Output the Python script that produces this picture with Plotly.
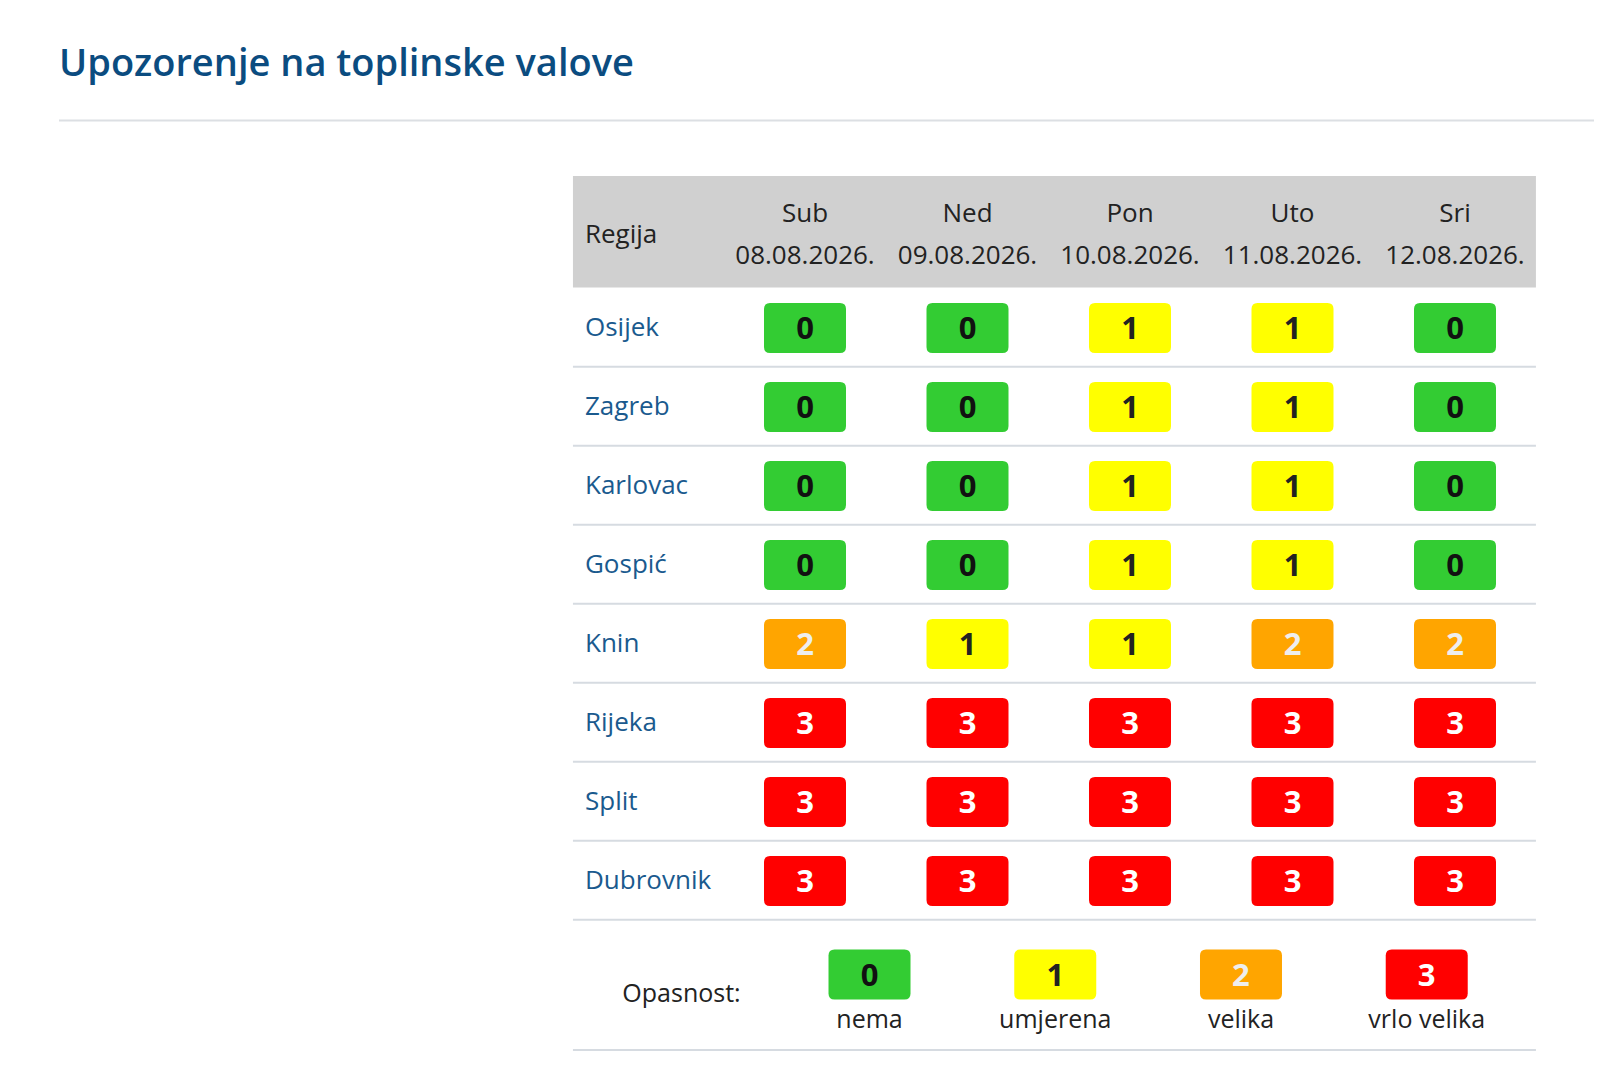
import plotly.graph_objects as go

# data
regions = ['Osijek', 'Zagreb', 'Karlovac', 'Gospić', 'Knin', 'Rijeka', 'Split', 'Dubrovnik']
days = ['Sub', 'Ned', 'Pon', 'Uto', 'Sri']
dates = ['08.08.2026.', '09.08.2026.', '10.08.2026.', '11.08.2026.', '12.08.2026.']
levels = [
    [0, 0, 1, 1, 0],
    [0, 0, 1, 1, 0],
    [0, 0, 1, 1, 0],
    [0, 0, 1, 1, 0],
    [2, 1, 1, 2, 2],
    [3, 3, 3, 3, 3],
    [3, 3, 3, 3, 3],
    [3, 3, 3, 3, 3],
]
level_values = [0, 1, 2, 3]
level_names = ['nema', 'umjerena', 'velika', 'vrlo velika']

# styles
fill = {0: '#33cc33', 1: '#ffff00', 2: '#ffa500', 3: '#ff0000'}
ink = {0: '#111111', 1: '#222222', 2: '#eeeeee', 3: '#ffffff'}
FONT = 'Open Sans'
W, H = 1602, 1080
XU, X0 = 162.5, 797      # px per column, px of first column
YU, Y0 = 79, 320         # px per row, px of first row
DIGIT_DY = 0.045         # nudge digits down to the badge centre

tbl_left, tbl_right = -1.428, 4.498
label_x = -1.354
leg_y, leg_label_y = 8.185, 8.78
leg_x0, leg_step = 0.397, 1.143


def badge_path(w=82, h=50, r=6):
    a, b = w / 2, h / 2
    return (f'M {-a + r},{-b} L {a - r},{-b} Q {a},{-b} {a},{-b + r} '
            f'L {a},{b - r} Q {a},{b} {a - r},{b} L {-a + r},{b} '
            f'Q {-a},{b} {-a},{b - r} L {-a},{-b + r} Q {-a},{-b} {-a + r},{-b} Z')


fig = go.Figure()
shapes = []

# header background
shapes.append(dict(type='rect', xref='x', yref='y', x0=tbl_left, x1=tbl_right,
                   y0=-1.924, y1=-0.513, fillcolor='#d0d0d0', line_width=0, layer='below'))

# row separators
for i in range(len(regions)):
    shapes.append(dict(type='line', xref='x', yref='y', x0=tbl_left, x1=tbl_right,
                       y0=i + 0.49, y1=i + 0.49, line=dict(color='#d6dbe1', width=2)))
shapes.append(dict(type='line', xref='x', yref='y', x0=tbl_left, x1=tbl_right,
                   y0=9.14, y1=9.14, line=dict(color='#d6dbe1', width=2)))

# badges
bx, by, btxt, bcol = [], [], [], []
for i, row in enumerate(levels):
    for j, v in enumerate(row):
        shapes.append(dict(type='path', xref='x', yref='y', xsizemode='pixel', ysizemode='pixel',
                           xanchor=j, yanchor=i, path=badge_path(),
                           fillcolor=fill[v], line_width=0, layer='below'))
        bx.append(j)
        by.append(i + DIGIT_DY)
        btxt.append(str(v))
        bcol.append(ink[v])

# legend badges
lx = [leg_x0 + k * leg_step for k in range(len(level_values))]
for k, v in enumerate(level_values):
    shapes.append(dict(type='path', xref='x', yref='y', xsizemode='pixel', ysizemode='pixel',
                       xanchor=lx[k], yanchor=leg_y, path=badge_path(),
                       fillcolor=fill[v], line_width=0, layer='below'))

fig.add_trace(go.Scatter(x=bx, y=by, text=btxt, mode='text', hoverinfo='skip',
                         textfont=dict(family=FONT, size=31, color=bcol, weight='bold')))
fig.add_trace(go.Scatter(x=lx, y=[leg_y + DIGIT_DY] * 4, text=[str(v) for v in level_values],
                         mode='text', hoverinfo='skip',
                         textfont=dict(family=FONT, size=31, color=[ink[v] for v in level_values],
                                       weight='bold')))
fig.add_trace(go.Scatter(x=lx, y=[leg_label_y] * 4, text=level_names, mode='text', hoverinfo='skip',
                         textfont=dict(family=FONT, size=25, color='#222222')))
fig.add_trace(go.Scatter(x=[-0.76], y=[8.458], text=['Opasnost:'], mode='text', hoverinfo='skip',
                         textfont=dict(family=FONT, size=25, color='#222222')))

# header texts
fig.add_trace(go.Scatter(x=list(range(len(days))), y=[-1.424] * len(days), text=days, mode='text',
                         hoverinfo='skip', textfont=dict(family=FONT, size=26, color='#222222')))
fig.add_trace(go.Scatter(x=list(range(len(dates))), y=[-0.894] * len(dates), text=dates, mode='text',
                         hoverinfo='skip', textfont=dict(family=FONT, size=26, color='#222222')))
fig.add_trace(go.Scatter(x=[label_x], y=[-1.152], text=['Regija'], mode='text', textposition='middle right',
                         hoverinfo='skip', textfont=dict(family=FONT, size=26, color='#222222')))

# region names
fig.add_trace(go.Scatter(x=[label_x] * len(regions), y=[i + 0.02 for i in range(len(regions))],
                         text=regions, mode='text', textposition='middle right', hoverinfo='skip',
                         textfont=dict(family=FONT, size=26, color='#1a5a8e')))

# title and rule
shapes.append(dict(type='line', xref='paper', yref='paper', x0=51 / W, x1=1, y0=1 - 112.6 / H,
                   y1=1 - 112.6 / H, line=dict(color='#dcdfe3', width=2)))

fig.update_layout(
    width=W, height=H,
    margin=dict(l=0, r=0, t=0, b=0),
    plot_bgcolor='white', paper_bgcolor='white',
    showlegend=False,
    shapes=shapes,
    xaxis=dict(range=[-X0 / XU, (W - X0) / XU], visible=False, fixedrange=True),
    yaxis=dict(range=[(H - Y0) / YU, -Y0 / YU], visible=False, fixedrange=True),
    annotations=[dict(text='Upozorenje na toplinske valove', xref='paper', yref='paper',
                      x=49 / W, y=1 - 53 / H, xanchor='left', yanchor='middle', showarrow=False,
                      font=dict(family=FONT, size=38, color='#0b4c80', weight=600))],
)

fig.write_html('out.html')
